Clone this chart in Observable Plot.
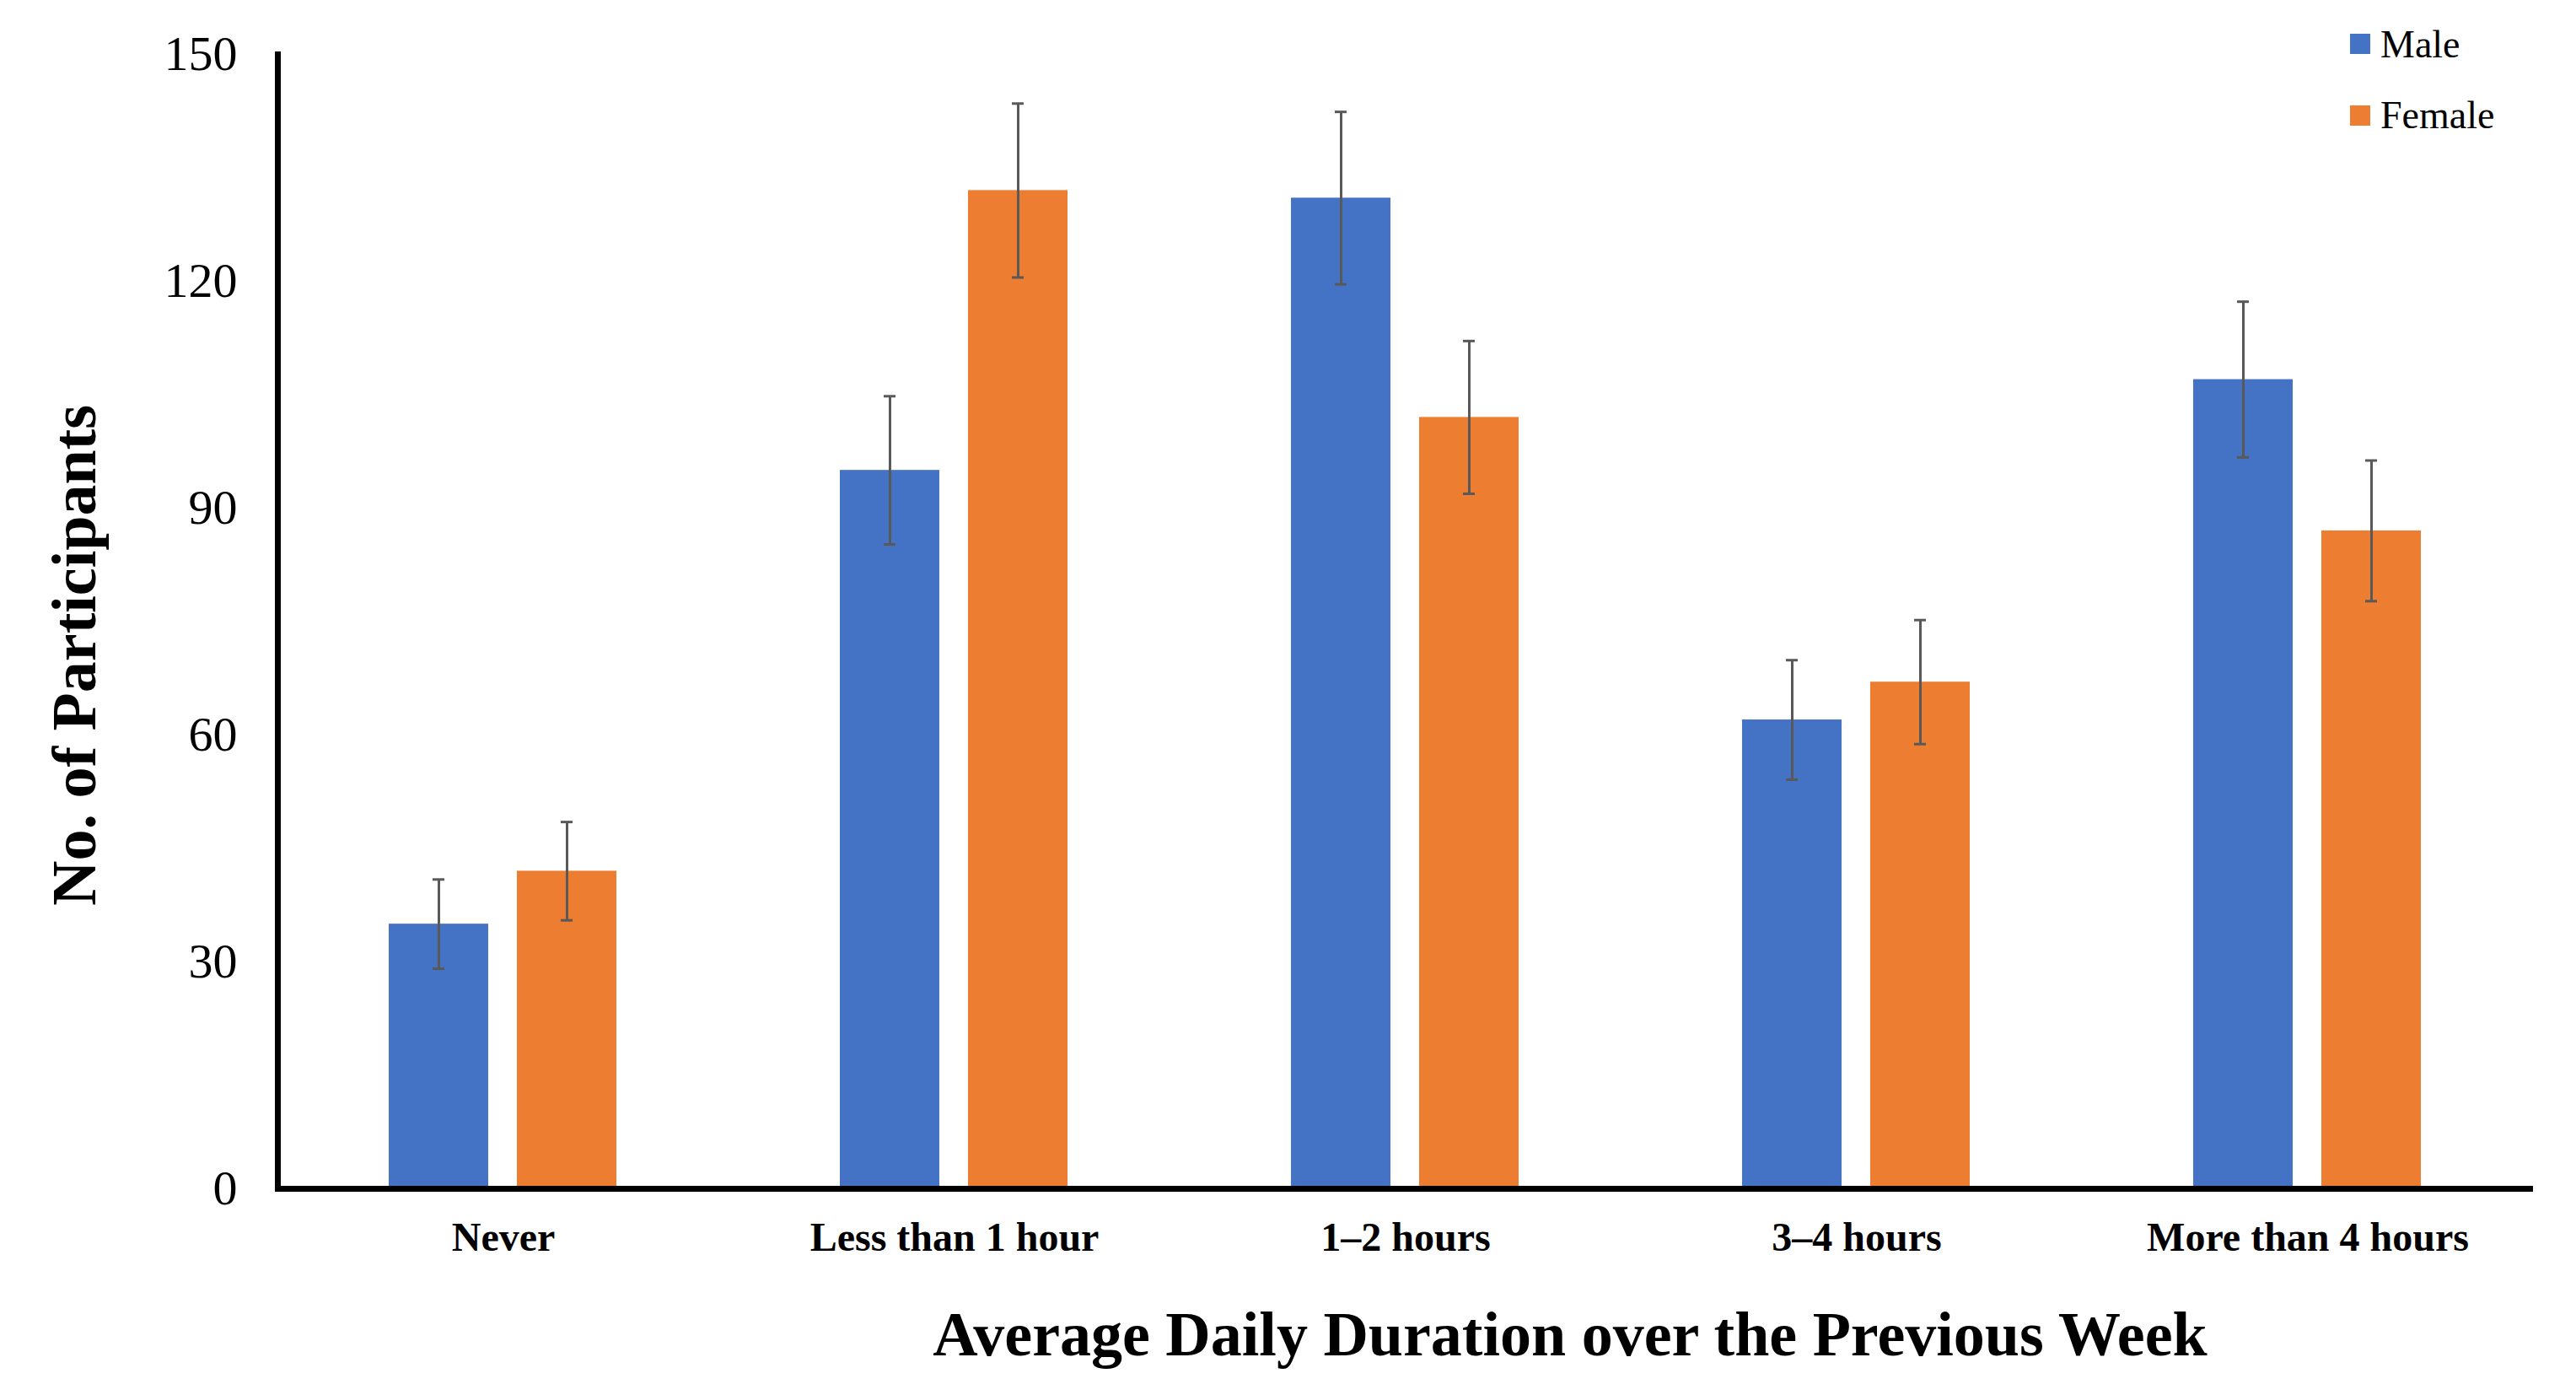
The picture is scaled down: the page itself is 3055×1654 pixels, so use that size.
<!DOCTYPE html>
<html>
<head>
<meta charset="utf-8">
<script src="https://cdn.jsdelivr.net/npm/d3@7"></script>
<script src="https://cdn.jsdelivr.net/npm/@observablehq/plot@0.6"></script>
<style>
html, body { margin: 0; padding: 0; background: #fff; }
#wrap { position: relative; width: 3055px; height: 1654px; font-family: "Liberation Serif", "Times New Roman", serif; color: #000; overflow: hidden; }
#chart svg { display: block; }
.t { position: absolute; white-space: nowrap; line-height: 1; }
.sw { position: absolute; width: 24px; height: 24px; }
</style>
</head>
<body>
<div id="wrap"><div id="chart"></div></div>
<script>
// ---- data ----
const categories = ["Never", "Less than 1 hour", "1–2 hours", "3–4 hours", "More than 4 hours"];
const series = ["Male", "Female"];
const maleValues = [35, 95, 131, 62, 107];
const femaleValues = [42, 132, 102, 67, 87];
const maleErrors = [5.9, 9.8, 11.4, 7.9, 10.3];
const femaleErrors = [6.5, 11.5, 10.1, 8.2, 9.3];
const yTicks = [0, 30, 60, 90, 120, 150];
const seriesColors = ["#4472C4", "#ED7D31"];
const yTitle = "No. of Participants";
const xTitle = "Average Daily Duration over the Previous Week";

// table built from the arrays
const rows = categories.flatMap((c, i) => [
  {category: c, sex: series[0], value: maleValues[i], err: maleErrors[i]},
  {category: c, sex: series[1], value: femaleValues[i], err: femaleErrors[i]}
]);

const errColor = "#595959";

const chart = Plot.plot({
  width: 3055,
  height: 1654,
  marginLeft: 328,
  marginRight: 50,
  marginTop: 64,
  marginBottom: 245,
  style: {fontFamily: "'Liberation Serif', 'Times New Roman', serif", background: "#fff", color: "#000"},
  fx: {domain: categories, padding: 0},
  x: {domain: series, paddingInner: 0.222, paddingOuter: 0.863, axis: null},
  y: {domain: [0, 150]},
  color: {domain: series, range: seriesColors},
  marks: [
    Plot.barY(rows, {fx: "category", x: "sex", y: "value", fill: "sex"}),
    Plot.ruleX(rows, {fx: "category", x: "sex", y1: d => d.value - d.err, y2: d => d.value + d.err, stroke: errColor, strokeWidth: 3}),
    Plot.tickY(rows, {fx: "category", x: "sex", y: d => d.value - d.err, stroke: errColor, strokeWidth: 3, insetLeft: 52, insetRight: 52}),
    Plot.tickY(rows, {fx: "category", x: "sex", y: d => d.value + d.err, stroke: errColor, strokeWidth: 3, insetLeft: 52, insetRight: 52}),
    Plot.ruleY([0], {stroke: "#000", strokeWidth: 7}),
    Plot.frame({anchor: "left", facetAnchor: "left", stroke: "#000", strokeWidth: 7}),
    Plot.axisY({ticks: yTicks, tickSize: 0, tickPadding: 48, fontSize: 58, label: null}),
    Plot.axisFx({anchor: "bottom", tickSize: 0, tickPadding: 39, fontSize: 48, fontWeight: "bold", label: null})
  ]
});
document.getElementById("chart").appendChild(chart);

const wrap = document.getElementById("wrap");
function addText(txt, css) {
  const d = document.createElement("div");
  d.className = "t";
  d.textContent = txt;
  Object.assign(d.style, css);
  wrap.appendChild(d);
  return d;
}
// y title (rotated)
addText(yTitle, {left: "88px", top: "777px", fontSize: "74px", fontWeight: "bold", transform: "translate(-50%,-50%) rotate(-90deg)"});
// x title
addText(xTitle, {left: "1862px", top: "1545px", fontSize: "74px", fontWeight: "bold", transform: "translateX(-50%)"});
// legend
const legendTops = [40, 125];
const legendTextTops = [29.5, 113.5];
series.forEach((s, i) => {
  const sw = document.createElement("div");
  sw.className = "sw";
  sw.style.left = "2787px";
  sw.style.top = legendTops[i] + "px";
  sw.style.background = seriesColors[i];
  wrap.appendChild(sw);
  addText(s, {left: "2823px", top: legendTextTops[i] + "px", fontSize: "46px"});
});
</script>
</body>
</html>
